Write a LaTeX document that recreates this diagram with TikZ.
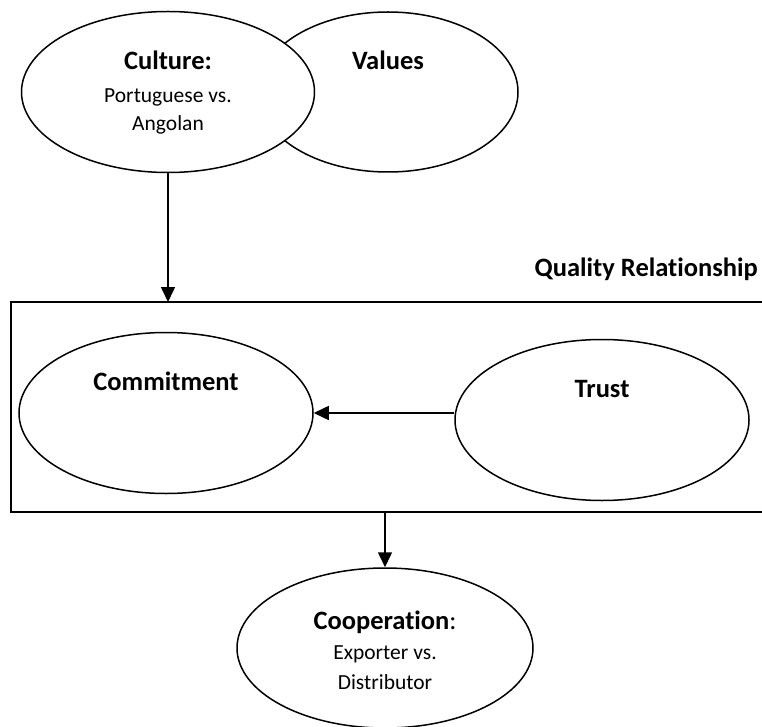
\documentclass[tikz,border=0pt]{standalone}
\usepackage{fontspec}
\setmainfont{Carlito}[Ligatures=NoCommon]
\usetikzlibrary{shapes.geometric,arrows.meta}
\begin{document}
\begin{tikzpicture}[x=1pt,y=-1pt,
  oval/.style={draw, ellipse, line width=1.5pt, fill=white, inner sep=0pt},
  head/.style={font=\fontsize{26.5}{30}\selectfont\bfseries, anchor=base, inner sep=0pt},
  sub/.style={font=\fontsize{21.5}{25}\selectfont, anchor=base, inner sep=0pt},
  link/.style={line width=1.5pt, -{Triangle[width=14pt,length=15pt]}}]
\useasboundingbox (0,0) rectangle (762,727);

% top pair of overlapping ovals
\node[oval, minimum width=260pt, minimum height=160pt] (values) at (388,92) {};
\node[oval, minimum width=293pt, minimum height=161pt] (culture) at (168,92) {};
\node[head] (culturehd) at (168,70) {Culture:};
\node[sub] (culturel1) at (168,103) {Portuguese vs.};
\node[sub] (culturel2) at (168,131) {Angolan};
\node[head] (valueshd) at (388,70) {Values};

% relationship frame (open on the right)
\draw[line width=2pt] (770,302) -- (11,302) -- (11,512) -- (770,512);
\coordinate (boxtop) at (168,302);
\coordinate (boxbottom) at (385,512);
\node[head, anchor=base east] (quality) at (758,276) {Quality Relationship};

\node[oval, minimum width=294pt, minimum height=161pt] (commit) at (166,413) {};
\node[head] (commithd) at (166,390) {Commitment};
\node[oval, minimum width=294pt, minimum height=161pt] (trust) at (602,420) {};
\node[head] (trusthd) at (602,397) {Trust};

% bottom oval
\node[oval, minimum width=296pt, minimum height=160pt] (coop) at (385,648) {};
\node[sub] (coophd) at (385,629) {\fontsize{26.5}{30}\selectfont\bfseries Cooperation\mdseries:};
\node[sub] (coopl1) at (385,659) {Exporter vs.};
\node[sub] (coopl2) at (385,689) {Distributor};

% connectors
\draw[link] (culture.south) -- (culture.south |- boxtop);
\draw[link] (trust.west |- commit.east) -- (commit.east);
\draw[link] (boxbottom) -- (coop.north);
\end{tikzpicture}
\end{document}
